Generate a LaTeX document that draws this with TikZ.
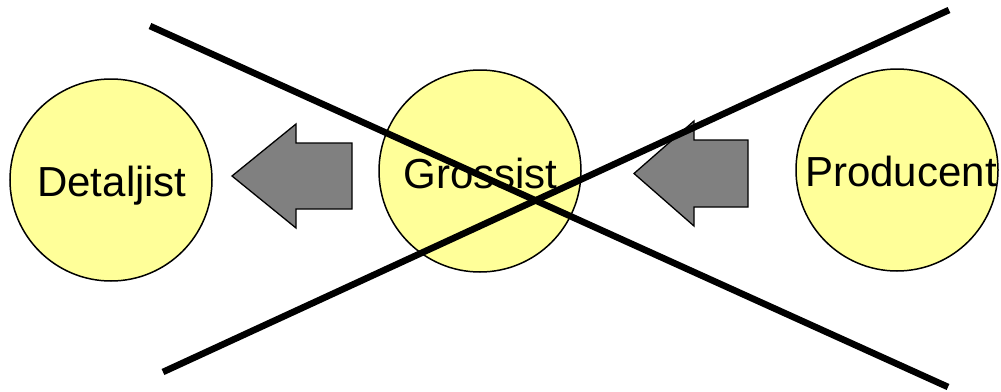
\documentclass[tikz,border=0pt]{standalone}
\usepackage{fontspec}
\setmainfont{Liberation Sans}
\definecolor{discfill}{HTML}{FFFF99}
\definecolor{arrowfill}{HTML}{808080}
\tikzset{
  disc/.style={circle, draw=black, line width=1.5pt, fill=discfill, minimum size=202pt, inner sep=0pt},
  lbl/.style={anchor=base, inner sep=0pt, font=\fontsize{42}{42}\selectfont},
  blockarrow/.style={draw=black, line width=1.3pt, fill=arrowfill, line join=miter},
  crossline/.style={draw=black, line width=6.6pt}
}
\begin{document}
\begin{tikzpicture}[x=1pt, y=-1pt]
\useasboundingbox (0,0) rectangle (1001,391);
\begin{scope}
\clip (0,0) rectangle (1001,391);
% the three trade stages
\node[disc] (detal) at (111,180) {};
\node[disc] (gross) at (480,171) {};
\node[disc] (prod)  at (897,170) {};

% block arrows pointing towards the retailer
\path[blockarrow] (232,176) -- (296,124) -- (296,143) -- (352,143) -- (352,209) -- (296,209) -- (296,228) -- cycle;
\path[blockarrow] (634,173.5) -- (694,121) -- (694,140) -- (748,140) -- (748,207) -- (694,207) -- (694,226) -- cycle;

% labels
\node[lbl] (tdetal) at (112,196) {Detaljist};
\node[lbl] (tgross) at (480.5,188) {Grossist};
\node[lbl] (tprod)  at (901,186) {Producent};

% the crossing-out lines
\coordinate (a1) at (150,26);
\coordinate (a2) at (948,387);
\coordinate (b1) at (163,372);
\coordinate (b2) at (949,10);
\draw[crossline] (a1) -- (a2);
\draw[crossline] (b1) -- (b2);
\end{scope}
\end{tikzpicture}
\end{document}
